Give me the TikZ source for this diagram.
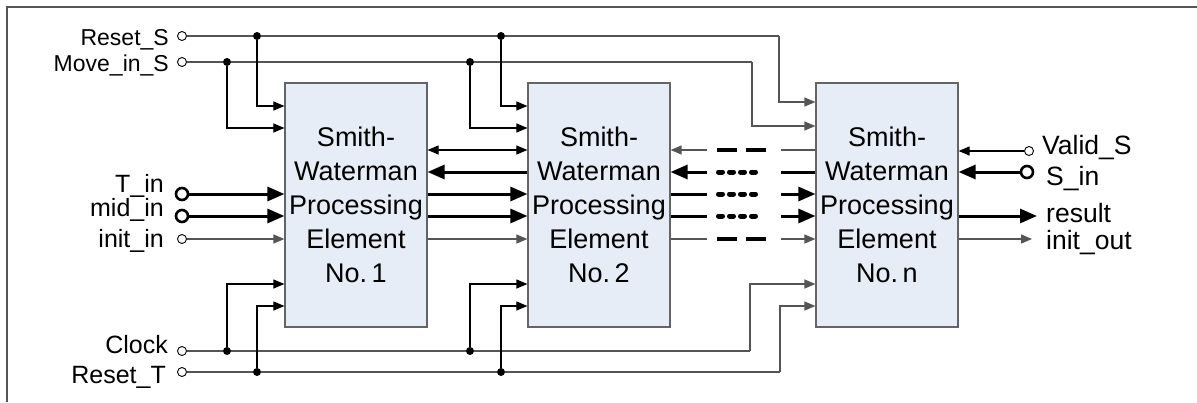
\documentclass[tikz,border=0pt]{standalone}
\usepackage{fontspec}
\setmainfont{Liberation Sans}
\usetikzlibrary{arrows.meta}
\definecolor{pefill}{RGB}{230,237,246}
\definecolor{pedraw}{RGB}{100,100,100}
\definecolor{sigcol}{RGB}{85,85,85}
\begin{document}
\begin{tikzpicture}[x=1pt,y=-1pt,
  pe/.style={draw=pedraw, fill=pefill, line width=1.2pt, minimum width=142pt, minimum height=244pt,
    align=center, inner sep=0pt, font=\fontsize{27}{34}\selectfont},
  lbl/.style={inner sep=0pt, font=\fontsize{25}{28}\selectfont},
  slbl/.style={inner sep=0pt, font=\fontsize{23}{26}\selectfont},
  rlbl/.style={inner sep=0pt, font=\fontsize{26.5}{29}\selectfont},
  port/.style={circle, draw=black, line width=0.9pt, minimum size=9pt, inner sep=0pt, fill=white},
  bigport/.style={circle, draw=black, line width=2.6pt, minimum size=12pt, inner sep=0pt, fill=white},
  jdot/.style={circle, fill=black, minimum size=8pt, inner sep=0pt},
  sig/.style={draw=sigcol, line width=1.3pt},
  thinarr/.style={-{Triangle[length=11pt,width=9pt]}},
  br/.style={draw=black, line width=1.1pt, thinarr},
  thk/.style={draw=black, line width=3pt},
  thkarr/.style={thk, -{Triangle[length=17pt,width=14pt]}},
  thkarrl/.style={thk, {Triangle[length=17pt,width=14pt]}-},
  dashgap/.style={draw=black, line width=4pt, dash pattern=on 20pt off 9pt},
  dotgap/.style={draw=black, line width=5pt, line cap=round, dash pattern=on 4pt off 7pt}
]
\useasboundingbox (0,0) rectangle (1197,402);
\draw[line width=1.5pt, draw=sigcol] (7,402) -- (7,7) -- (1197,7);

% processing elements
\node[pe] (b1) at (356,205) {Smith-\\Waterman\\Processing\\Element\\No.\,1};
\node[pe] (b2) at (599,205) {Smith-\\Waterman\\Processing\\Element\\No.\,2};
\node[pe] (bn) at (887,205) {Smith-\\Waterman\\Processing\\Element\\No.\,n};

% left ports
\node[port] (rs) at (182,36) {};
\node[slbl, anchor=base east] (rsl) at (169,45) {Reset\_S};
\node[port] (mv) at (182,62) {};
\node[slbl, anchor=base east] (mvl) at (169,71) {Move\_in\_S};
\node[bigport] (tin) at (182,194) {};
\node[lbl, anchor=base east] (tinl) at (164,192) {T\_in};
\node[bigport] (mid) at (182,216) {};
\node[lbl, anchor=base east] (midl) at (164,216) {mid\_in};
\node[port] (ini) at (182,239) {};
\node[lbl, anchor=base east] (inil) at (164,247) {init\_in};
\node[port] (ck) at (182,351) {};
\node[lbl, anchor=base east] (ckl) at (168,353) {Clock};
\node[port] (rt) at (182,372) {};
\node[lbl, anchor=base east] (rtl) at (166,383) {Reset\_T};

% right ports
\node[port] (vs) at (1029,151) {};
\node[rlbl, anchor=base west] (vsl) at (1042,154) {Valid\_S};
\node[bigport] (sin) at (1027,172) {};
\node[rlbl, anchor=base west] (sinl) at (1046,185) {S\_in};
\coordinate (res) at (1037,216);
\node[rlbl, anchor=base west] (resl) at (1046,222) {result};
\coordinate (iout) at (1032,239);
\node[rlbl, anchor=base west] (ioutl) at (1046,249) {init\_out};

% junction dots
\node[jdot] (rs1) at (257,36) {};
\node[jdot] (rs2) at (501,36) {};
\node[jdot] (mv1) at (227,62) {};
\node[jdot] (mv2) at (470,62) {};
\node[jdot] (ck1) at (227,351) {};
\node[jdot] (ck2) at (470,351) {};
\node[jdot] (rt1) at (257,372) {};
\node[jdot] (rt2) at (501,372) {};

% corner coordinates
\coordinate (rsc1) at (779,36);  \coordinate (rsc2) at (779,102);
\coordinate (mvc1) at (752,62);  \coordinate (mvc2) at (752,126);
\coordinate (ckc1) at (750,351); \coordinate (ckc2) at (750,284);
\coordinate (rtc1) at (780,372); \coordinate (rtc2) at (780,306);

% global control signals
\draw[sig] (rs) -- (rs1) -- (rs2) -- (rsc1);
\draw[sig, thinarr] (rsc1) -- (rsc2) -- (bn.west |- rsc2);
\draw[sig] (mv) -- (mv1) -- (mv2) -- (mvc1);
\draw[sig, thinarr] (mvc1) -- (mvc2) -- (bn.west |- mvc2);
\draw[sig] (ck) -- (ck1) -- (ck2) -- (ckc1);
\draw[sig, thinarr] (ckc1) -- (ckc2) -- (bn.west |- ckc2);
\draw[sig] (rt) -- (rt1) -- (rt2) -- (rtc1);
\draw[sig, thinarr] (rtc1) -- (rtc2) -- (bn.west |- rtc2);

% branches
\draw[br] (rs1) |- (b1.west |- 0,106);
\draw[br] (mv1) |- (b1.west |- 0,128);
\draw[br] (rs2) |- (b2.west |- 0,106);
\draw[br] (mv2) |- (b2.west |- 0,128);
\draw[br] (ck1) |- (b1.west |- 0,284);
\draw[br] (rt1) |- (b1.west |- 0,306);
\draw[br] (ck2) |- (b2.west |- 0,284);
\draw[br] (rt2) |- (b2.west |- 0,306);

% data inputs to PE 1
\draw[thkarr] (tin) -- (b1.west |- tin);
\draw[thkarr] (mid) -- (b1.west |- mid);
\draw[sig, thinarr] (ini) -- (b1.west |- ini);

% PE1 <-> PE2
\draw[draw=black, line width=1.1pt, {Triangle[length=11pt,width=9pt]}-{Triangle[length=11pt,width=9pt]}] (b1.east |- 0,150) -- (b2.west |- 0,150);
\draw[thkarrl] (b1.east |- 0,172) -- (b2.west |- 0,172);
\draw[thkarr] (b1.east |- 0,194) -- (b2.west |- 0,194);
\draw[thkarr] (b1.east |- 0,216) -- (b2.west |- 0,216);
\draw[sig, thinarr] (b1.east |- 0,239) -- (b2.west |- 0,239);

% PE2 ... PEn
\coordinate (g1) at (707,0); \coordinate (g2) at (781,0);
\draw[sig, thinarr] (g1 |- 0,150) -- (b2.east |- 0,150);
\draw[sig] (bn.west |- 0,150) -- (g2 |- 0,150);
\draw[thkarrl] (b2.east |- 0,172) -- (g1 |- 0,172);
\draw[thk] (g2 |- 0,172) -- (bn.west |- 0,172);
\draw[thk] (b2.east |- 0,194) -- (g1 |- 0,194);
\draw[thkarr] (g2 |- 0,194) -- (bn.west |- 0,194);
\draw[thk] (b2.east |- 0,216) -- (g1 |- 0,216);
\draw[thkarr] (g2 |- 0,216) -- (bn.west |- 0,216);
\draw[sig] (b2.east |- 0,239) -- (g1 |- 0,239);
\draw[sig, thinarr] (g2 |- 0,239) -- (bn.west |- 0,239);
\draw[dashgap] (717,150) -- (766,150);
\draw[dashgap] (717,239) -- (766,239);
\draw[dotgap] (718.5,172) -- (755.5,172);
\draw[dotgap] (718.5,194) -- (755.5,194);
\draw[dotgap] (718.5,216) -- (755.5,216);

% PEn right side
\draw[draw=black, line width=1.1pt, thinarr] (vs) -- (bn.east |- vs);
\draw[thkarr] (sin) -- (bn.east |- sin);
\draw[thkarr] (bn.east |- res) -- (res);
\draw[sig, thinarr] (bn.east |- iout) -- (iout);
\end{tikzpicture}
\end{document}
